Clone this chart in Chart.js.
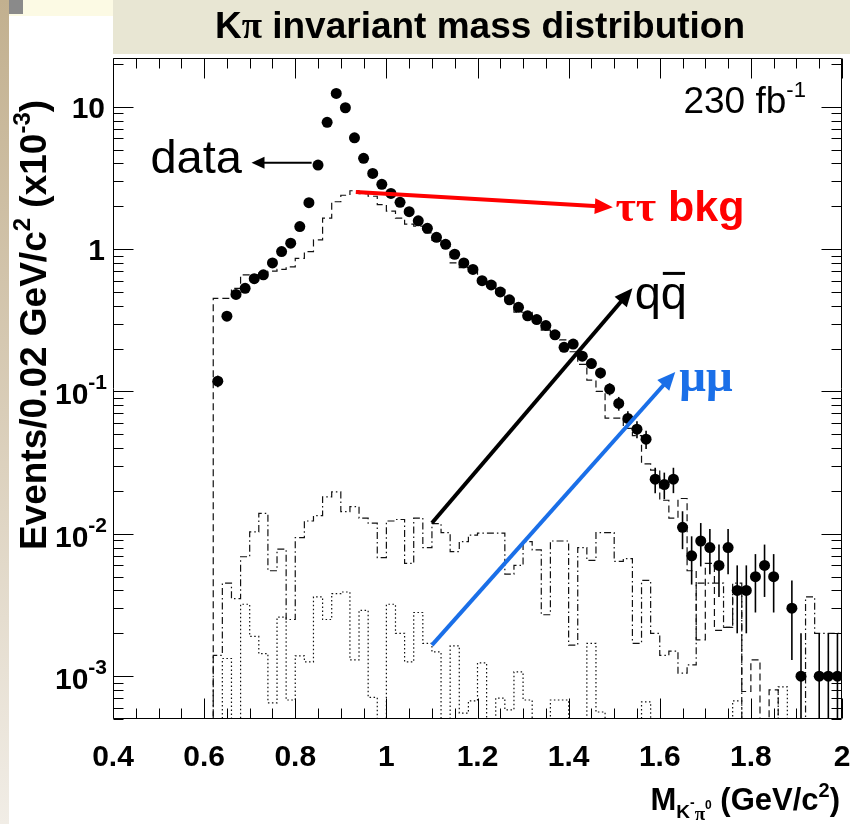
<!DOCTYPE html>
<html><head><meta charset="utf-8">
<script src="https://cdn.jsdelivr.net/npm/chart.js@4.4.1/dist/chart.umd.min.js"></script>
<style>html,body{margin:0;padding:0;background:#fff;overflow:hidden}canvas{display:block}</style>
</head><body>
<canvas id="c" width="850" height="824"></canvas>
<script>
// ---------- DATA (units: x10^-3 events / 0.02 GeV/c^2) ----------
const binWidth = 0.02;
// bin centres of the data points / MC bins (low edge = centre - 0.01)
const massBins = [0.63,0.65,0.67,0.69,0.71,0.73,0.75,0.77,0.79,0.81,0.83,0.85,0.87,0.89,0.91,0.93,0.95,0.97,0.99,
  1.01,1.03,1.05,1.07,1.09,1.11,1.13,1.15,1.17,1.19,1.21,1.23,1.25,1.27,1.29,1.31,1.33,1.35,1.37,1.39,
  1.41,1.43,1.45,1.47,1.49,1.51,1.53,1.55,1.57,1.59,1.61,1.63,1.65,1.67,1.69,1.71,1.73,1.75,1.77,1.79,
  1.81,1.83,1.85,1.87,1.89,1.91,1.93,1.95,1.97,1.99];
const dataValues = [0.118,0.338,0.48,0.53,0.62,0.66,0.80,0.96,1.10,1.44,2.12,3.89,7.77,12.4,9.84,6.05,4.34,3.40,2.85,
  2.46,2.13,1.83,1.58,1.40,1.21,1.08,0.92,0.80,0.72,0.60,0.56,0.50,0.44,0.39,0.34,0.32,0.29,0.25,0.204,
  0.215,0.177,0.157,0.135,0.104,0.0824,0.0646,0.0543,0.0462,0.0242,0.0222,0.0242,0.0111,0.0070,0.0089,0.0080,0.0060,0.0080,0.0040,0.0040,
  0.0050,0.0060,0.0050,null,0.0030,0.0010,null,0.0010,0.0010,0.0010];
const dataErrors = [0.011,0.018,0.022,0.023,0.025,0.026,0.028,0.031,0.033,0.038,0.046,0.062,0.088,0.111,0.099,0.078,0.066,0.058,0.053,
  0.050,0.046,0.043,0.040,0.037,0.035,0.033,0.030,0.028,0.027,0.024,0.024,0.022,0.021,0.020,0.018,0.018,0.017,0.0158,0.0143,
  0.0147,0.0133,0.0125,0.0116,0.0102,0.0091,0.0080,0.0074,0.0068,0.0049,0.0047,0.0049,0.0033,0.0026,0.0030,0.0028,0.0024,0.0028,0.0020,0.0020,
  0.0022,0.0024,0.0022,null,0.0017,0.0010,null,0.0010,0.0010,0.0010];
// MC expectations per bin (same bins as massBins), 0 = empty bin
const tautauBkg = [0.45,0.45,0.53,0.66,0.66,0.68,0.70,0.72,0.75,0.86,0.96,1.16,1.65,2.15,2.39,2.57,2.45,2.35,2.05,
  1.85,1.65,1.50,1.45,1.30,1.15,1.05,0.80,0.74,0.70,0.63,0.58,0.52,0.45,0.36,0.36,0.31,0.27,0.26,0.23,
  0.19,0.155,0.12,0.10,0.065,0.065,0.055,0.049,0.031,0.028,0.0172,0.0129,0.0177,0.0055,0.0018,0.0062,0.0021,0.0022,0.0040,0.00078,
  0.0013,0,0.0008,0,0,0,0,0,0,0];
const qqbarBkg = [0.0014,0.0045,0.0035,0.0069,0.0103,0.0139,0.0055,0.0078,0.0025,0.0094,0.0123,0.0134,0.0182,0.0197,0.0143,0.0155,0.0129,0.0119,0.0068,
  0.0123,0.0126,0.0062,0.0129,0.0080,0.0118,0.0102,0.0075,0.0088,0.0098,0.0101,0.0101,0.0101,0.0052,0.0060,0.0088,0.0077,0.0027,0.0089,0.0089,
  0.00165,0.0080,0.0065,0.0102,0.0102,0.0064,0.0067,0.0017,0.0047,0.0020,0.0014,0.0015,0.00105,0.0012,0.0045,0.0045,0.0045,0.0022,0.0045,0,
  0,0,0,0,0,0,0.0036,0.0020,0.0020,0.0020];
const mumuBkg = [0,0.00133,0,0.0032,0.0019,0.00144,0.00065,0.0026,0.00068,0.00139,0.00126,0.0036,0.0025,0.0038,0.0039,0.0013,0.0029,0.00071,0,
  0.0032,0.0020,0.00126,0.0028,0.0017,0.00148,0,0.00163,0.00055,0.00067,0.00124,0,0.0007,0.00058,0.00107,0.00068,0,0,0.00068,0.00068,
  0,0,0.0017,0.00056,0,0,0,0,0.00066,0,0,0,0,0,0,0,0,0,0.00067,0,
  0,0,0,0.00084,0,0,0,0,0,0];
// axis ticks / labels
const xMajorTicks = [0.4,0.6,0.8,1.0,1.2,1.4,1.6,1.8,2.0];
const xTickLabels = ['0.4','0.6','0.8','1','1.2','1.4','1.6','1.8','2'];
const yDecades = [0.001,0.01,0.1,1,10];
const yTickLabels = [['10','-3'],['10','-2'],['10','-1'],['1',''],['10','']];

// ---------- build datasets ----------
const X_MIN = 0.4, X_MAX = 2.0, Y_MIN = 0.0005, Y_MAX = 22;
const EMPTY = Y_MIN / 10; // empty bins are drawn down to the axis
function histPoints(vals) {
  const pts = [{x: massBins[0] - binWidth/2, y: EMPTY}];
  vals.forEach((v, i) => pts.push({x: massBins[i] - binWidth/2, y: v > 0 ? v : EMPTY}));
  const last = vals[vals.length-1];
  pts.push({x: massBins[massBins.length-1] + binWidth/2, y: last > 0 ? last : EMPTY});
  return pts;
}
const dataPts = [];
massBins.forEach((m, i) => { if (dataValues[i] != null) dataPts.push({x: m, y: dataValues[i], e: dataErrors[i]}); });

const SANS = '"Liberation Sans", Arial, Helvetica, sans-serif';
const SERIF = '"Liberation Serif", "DejaVu Serif", serif';

// annotation positions in data coordinates
const notes = {
  dataArrow: {from: [0.836, 4.04], to: [0.704, 4.04]},
  dataText: {x: 0.683, y: 3.45},
  tauArrow: {from: [0.933, 2.52], to: [1.497, 1.97]},
  tauText: {x: 1.503, y: 1.57},
  qqArrow: {from: [1.100, 0.0119], to: [1.540, 0.53]},
  qqText: {x: 1.545, y: 0.38},
  mumuArrow: {from: [1.100, 0.00165], to: [1.634, 0.137]},
  mumuText: {x: 1.643, y: 0.100},
  lumiText: {x: 1.652, y: 9.0}
};

function runs(c, parts, x, y, align) {
  let w = 0;
  parts.forEach(p => { c.font = p.f; p.w = c.measureText(p.t).width; w += p.w; });
  let cx = align === 'right' ? x - w : align === 'center' ? x - w/2 : x;
  c.textAlign = 'left'; c.textBaseline = 'alphabetic';
  parts.forEach(p => { c.font = p.f; if (p.c) c.fillStyle = p.c; c.fillText(p.t, cx, y + (p.dy || 0)); cx += p.w; });
  return w;
}
function arrow(c, x1, y1, x2, y2, color, lw, hl, hw) {
  const ang = Math.atan2(y2 - y1, x2 - x1);
  c.save();
  c.strokeStyle = color; c.fillStyle = color; c.lineWidth = lw; c.lineCap = 'butt';
  c.beginPath(); c.moveTo(x1, y1);
  c.lineTo(x2 - Math.cos(ang) * hl * 0.8, y2 - Math.sin(ang) * hl * 0.8); c.stroke();
  c.beginPath();
  c.moveTo(x2, y2);
  c.lineTo(x2 - Math.cos(ang) * hl - Math.sin(ang) * hw, y2 - Math.sin(ang) * hl + Math.cos(ang) * hw);
  c.lineTo(x2 - Math.cos(ang) * hl + Math.sin(ang) * hw, y2 - Math.sin(ang) * hl - Math.cos(ang) * hw);
  c.closePath(); c.fill();
  c.restore();
}

const rootStyle = {
  id: 'rootStyle',
  beforeDraw(chart) {
    const c = chart.ctx;
    c.save();
    c.fillStyle = '#ffffff'; c.fillRect(0, 0, 850, 824);
    const g = c.createLinearGradient(0, 0, 0, 824);
    g.addColorStop(0, '#c2b08f'); g.addColorStop(0.5, '#d9cdb8'); g.addColorStop(1, '#f1ede6');
    c.fillStyle = g; c.fillRect(0, 0, 9, 824);
    c.fillStyle = '#fcfae4'; c.fillRect(9, 0, 104, 16);
    c.fillStyle = '#8a8a8a'; c.fillRect(9, 0, 14, 14);
    c.fillStyle = '#e8e6d3'; c.fillRect(113, 0, 737, 54);
    c.fillStyle = '#000';
    runs(c, [{t: 'K', f: 'bold 37px ' + SANS}, {t: 'π', f: 'bold 37px ' + SERIF},
             {t: ' invariant mass distribution', f: 'bold 37px ' + SANS}], 480, 38, 'center');
    c.restore();
  },
  beforeDatasetDraw(chart, args) {
    if (args.index !== 0) return;
    const c = chart.ctx, xs = chart.scales.x, ys = chart.scales.y, a = chart.chartArea;
    c.save();
    c.beginPath(); c.rect(a.left, a.top, a.right - a.left, a.bottom - a.top); c.clip();
    c.strokeStyle = '#000'; c.lineWidth = 1.6;
    dataPts.forEach(p => {
      const px = xs.getPixelForValue(p.x);
      const lo = p.y - p.e;
      const yTop = ys.getPixelForValue(p.y + p.e);
      const yBot = lo > 0 ? ys.getPixelForValue(lo) : a.bottom + 2;
      c.beginPath(); c.moveTo(px, yTop); c.lineTo(px, yBot); c.stroke();
    });
    c.restore();
  },
  afterDraw(chart) {
    const c = chart.ctx, xs = chart.scales.x, ys = chart.scales.y, a = chart.chartArea;
    const L = Math.round(a.left) + 0.5, R = Math.round(a.right) - 0.5, T = Math.round(a.top) + 0.5, B = Math.round(a.bottom) - 0.5;
    c.save();
    c.strokeStyle = '#000'; c.lineWidth = 1;
    c.beginPath();
    c.moveTo(L, T); c.lineTo(L, B); c.lineTo(R, B); c.lineTo(R, T); c.lineTo(L, T);
    // x ticks (major every 0.2, minor every 0.05)
    for (let k = 0; k <= 32; k++) {
      const v = X_MIN + k * 0.05;
      const px = Math.round(xs.getPixelForValue(v)) + 0.5;
      const len = (k % 4 === 0) ? 20 : 10;
      c.moveTo(px, B); c.lineTo(px, B - len);
      c.moveTo(px, T); c.lineTo(px, T + len);
    }
    // y ticks (decades + 2..9)
    [0.0001, 0.001, 0.01, 0.1, 1, 10].forEach(d => {
      for (let m = 1; m <= 9; m++) {
        const v = m * d;
        if (v < Y_MIN || v > Y_MAX) continue;
        const py = Math.round(ys.getPixelForValue(v)) + 0.5;
        const len = m === 1 ? 20 : 10;
        c.moveTo(L, py); c.lineTo(L + len, py);
        c.moveTo(R, py); c.lineTo(R - len, py);
      }
    });
    c.stroke();

    // tick labels
    c.fillStyle = '#000';
    xMajorTicks.forEach((v, i) => {
      runs(c, [{t: xTickLabels[i], f: 'bold 30px ' + SANS}], xs.getPixelForValue(v), 766, 'center');
    });
    yDecades.forEach((v, i) => {
      const py = ys.getPixelForValue(v);
      const [base, ex] = yTickLabels[i];
      if (ex) runs(c, [{t: base, f: 'bold 30px ' + SANS, dy: 13}, {t: ex, f: 'bold 21px ' + SANS, dy: -2}], 107, py, 'right');
      else runs(c, [{t: base, f: 'bold 30px ' + SANS, dy: 11}], 105, py, 'right');
    });

    // axis titles
    runs(c, [{t: 'M', f: 'bold 31px ' + SANS}, {t: 'K', f: 'bold 19px ' + SANS, dy: 8},
             {t: '-', f: 'bold 14px ' + SANS, dy: -3}, {t: 'π', f: 'bold 19px ' + SERIF, dy: 10},
             {t: '0', f: 'bold 12px ' + SANS, dy: -1},
             {t: ' (GeV/c', f: 'bold 31px ' + SANS}, {t: '2', f: 'bold 20px ' + SANS, dy: -13},
             {t: ')', f: 'bold 31px ' + SANS}], 840, 810, 'right');
    c.save();
    c.translate(46, 325); c.rotate(-Math.PI / 2);
    runs(c, [{t: 'Events/0.02 GeV/c', f: 'bold 37px ' + SANS}, {t: '2', f: 'bold 24px ' + SANS, dy: -16},
             {t: ' (x10', f: 'bold 37px ' + SANS}, {t: '-3', f: 'bold 24px ' + SANS, dy: -16},
             {t: ')', f: 'bold 37px ' + SANS}], 0, 0, 'center');
    c.restore();

    // annotations
    const P = (xy) => [xs.getPixelForValue(xy[0]), ys.getPixelForValue(xy[1])];
    let f = P(notes.dataArrow.from), t = P(notes.dataArrow.to);
    arrow(c, f[0], f[1], t[0], t[1], '#000', 2, 13, 6);
    runs(c, [{t: 'data', f: '47px ' + SANS, c: '#000'}], xs.getPixelForValue(notes.dataText.x), ys.getPixelForValue(notes.dataText.y), 'right');
    runs(c, [{t: '230 fb', f: '37px ' + SANS, c: '#000'}, {t: '-1', f: '22px ' + SANS, dy: -16}],
         xs.getPixelForValue(notes.lumiText.x), ys.getPixelForValue(notes.lumiText.y), 'left');

    f = P(notes.tauArrow.from); t = P(notes.tauArrow.to);
    arrow(c, f[0], f[1], t[0], t[1], '#ff0000', 4, 18, 8);
    runs(c, [{t: 'ττ', f: 'bold 44px ' + SERIF, c: '#ff0000'}, {t: ' bkg', f: 'bold 43px ' + SANS}],
         xs.getPixelForValue(notes.tauText.x), ys.getPixelForValue(notes.tauText.y), 'left');

    f = P(notes.qqArrow.from); t = P(notes.qqArrow.to);
    arrow(c, f[0], f[1], t[0], t[1], '#000', 4, 18, 8);
    const qx = xs.getPixelForValue(notes.qqText.x), qy = ys.getPixelForValue(notes.qqText.y);
    c.fillStyle = '#000';
    c.font = '47px ' + SANS;
    const wq = c.measureText('q').width;
    runs(c, [{t: 'qq', f: '47px ' + SANS, c: '#000'}], qx, qy, 'left');
    c.fillRect(qx + wq + 2, qy - 37, wq - 4, 3);

    f = P(notes.mumuArrow.from); t = P(notes.mumuArrow.to);
    arrow(c, f[0], f[1], t[0], t[1], '#1a6fe8', 4, 18, 8);
    runs(c, [{t: 'μμ', f: 'bold 47px ' + SERIF, c: '#1a6fe8'}],
         xs.getPixelForValue(notes.mumuText.x), ys.getPixelForValue(notes.mumuText.y), 'left');
    c.restore();
  }
};

const histStyle = (pts, dash) => ({
  data: pts, showLine: true, stepped: 'before', pointRadius: 0, borderColor: '#111',
  borderWidth: 1.2, borderDash: dash, fill: false, tension: 0
});

new Chart(document.getElementById('c'), {
  type: 'line',
  data: {
    datasets: [
      {data: dataPts, showLine: false, pointRadius: 5.5, pointBackgroundColor: '#000', pointBorderColor: '#000', pointBorderWidth: 0},
      histStyle(histPoints(tautauBkg), [7, 4]),
      histStyle(histPoints(qqbarBkg), [7, 3, 1.5, 3]),
      histStyle(histPoints(mumuBkg), [1.5, 2.5])
    ]
  },
  options: {
    responsive: false, animation: false, events: [],
    layout: {padding: {left: 0, right: 8, top: 58, bottom: 0}},
    scales: {
      x: {type: 'linear', min: X_MIN, max: X_MAX, ticks: {display: false}, grid: {display: false}, border: {display: false},
          afterFit(s) { s.height = 105; }},
      y: {type: 'logarithmic', min: Y_MIN, max: Y_MAX, ticks: {display: false}, grid: {display: false}, border: {display: false},
          afterFit(s) { s.width = 113; }}
    },
    plugins: {legend: {display: false}, tooltip: {enabled: false}}
  },
  plugins: [rootStyle]
});
</script>
</body></html>
